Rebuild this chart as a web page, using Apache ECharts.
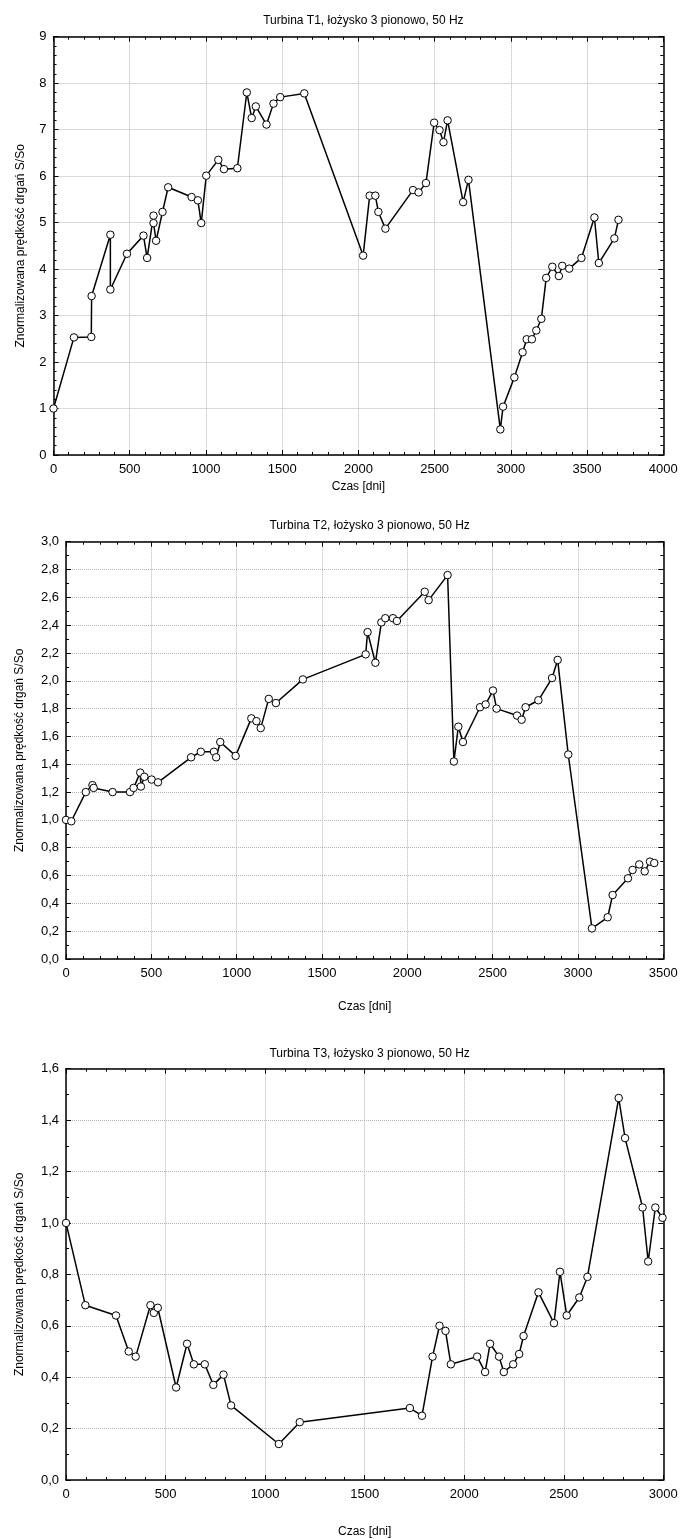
<!DOCTYPE html>
<html>
<head>
<meta charset="utf-8">
<script src="https://cdn.jsdelivr.net/npm/echarts@6/dist/echarts.min.js"></script>
<style>
  html, body { margin: 0; padding: 0; background: #fff; }
  #chart { width: 681px; height: 1539px; }
</style>
</head>
<body>
<div id="chart"></div>
<script>
// ---------- data ----------
const titles = [
  'Turbina T1, łożysko 3 pionowo, 50 Hz',
  'Turbina T2, łożysko 3 pionowo, 50 Hz',
  'Turbina T3, łożysko 3 pionowo, 50 Hz'
];
const xAxisName = 'Czas [dni]';
const yAxisName = 'Znormalizowana prędkość drgań S/So';

const t1Days = [0,134,248,250,373,373,482,590,614,656,656,673,715,752,906,947,969,1002,1081,1118,1206,1268,1300,1327,1397,1443,1487,1645,2031,2074,2111,2131,2177,2358,2395,2443,2497,2532,2558,2585,2687,2722,2931,2949,3023,3077,3104,3138,3167,3200,3232,3272,3315,3337,3383,3463,3548,3577,3679,3706];
const t1Vals = [1.0,2.53,2.54,3.42,4.74,3.56,4.33,4.72,4.24,5.15,4.99,4.61,5.23,5.76,5.55,5.48,4.99,6.01,6.35,6.15,6.17,7.80,7.25,7.50,7.11,7.56,7.70,7.78,4.29,5.58,5.58,5.23,4.87,5.70,5.65,5.85,7.15,6.99,6.73,7.20,5.44,5.92,0.55,1.04,1.67,2.21,2.49,2.49,2.68,2.93,3.81,4.05,3.85,4.07,4.01,4.24,5.11,4.13,4.66,5.06];

const t2Days = [0,31,116,155,162,273,375,396,435,439,459,502,539,733,790,867,880,904,994,1086,1116,1141,1188,1230,1388,1756,1767,1813,1848,1871,1916,1939,2102,2125,2236,2273,2299,2326,2426,2459,2502,2523,2643,2670,2693,2768,2848,2881,2943,3082,3174,3203,3293,3320,3359,3391,3422,3447];
const t2Vals = [1.0,0.99,1.20,1.25,1.23,1.20,1.20,1.23,1.34,1.24,1.31,1.29,1.27,1.45,1.49,1.49,1.45,1.56,1.46,1.73,1.71,1.66,1.87,1.84,2.01,2.19,2.35,2.13,2.42,2.45,2.45,2.43,2.64,2.58,2.76,1.42,1.67,1.56,1.81,1.83,1.93,1.80,1.75,1.72,1.81,1.86,2.02,2.15,1.47,0.22,0.30,0.46,0.58,0.64,0.68,0.63,0.70,0.69];

const t3Days = [0,97,251,315,350,424,441,461,553,608,642,697,740,791,829,1069,1174,1727,1788,1841,1876,1906,1933,2065,2105,2130,2175,2199,2246,2276,2298,2373,2451,2481,2515,2578,2619,2776,2808,2896,2924,2960,2996];
const t3Vals = [1.0,0.68,0.64,0.50,0.48,0.68,0.65,0.67,0.36,0.53,0.45,0.45,0.37,0.41,0.29,0.14,0.225,0.28,0.25,0.48,0.60,0.58,0.45,0.48,0.42,0.53,0.48,0.42,0.45,0.49,0.56,0.73,0.61,0.81,0.64,0.71,0.79,1.486,1.33,1.06,0.85,1.06,1.02];

const xMax = [4000, 3500, 3000];
const yMax = [9, 3.0, 1.6];
const yInterval = [1, 0.2, 0.2];
const yMinorSplit = [5, 2, 2];

// ---------- layout ----------
const grids = [
  { left: 53.5, top: 36.7, width: 609.8, height: 418.3 },
  { left: 66, top: 541.7, width: 597.3, height: 417.3 },
  { left: 66, top: 1068.7, width: 597.3, height: 412.6 }
];
const titleTops = [10, 514.5, 1043];
const xNameGaps = [26, 42, 46];
const yNameGaps = [27, 40, 40];

const FONT = '"Liberation Sans", Arial, Helvetica, sans-serif';
const series = [
  [t1Days, t1Vals], [t2Days, t2Vals], [t3Days, t3Vals]
];

const option = {
  animation: false,
  backgroundColor: '#fff',
  textStyle: { fontFamily: FONT, color: '#000' },
  title: titles.map((t, i) => ({
    text: t,
    left: grids[i].left + grids[i].width / 2,
    top: titleTops[i],
    textAlign: 'center',
    textStyle: { fontSize: 12, fontWeight: 'normal', color: '#000', fontFamily: FONT }
  })),
  grid: grids.map(g => Object.assign({ containLabel: false }, g)),
  xAxis: [],
  yAxis: [],
  series: []
};

const xFmt = v => String(Math.round(v));
const yFmt = [
  v => String(Math.round(v)),
  v => v.toFixed(1).replace('.', ','),
  v => v.toFixed(1).replace('.', ',')
];

for (let i = 0; i < 3; i++) {
  const common = {
    type: 'value',
    gridIndex: i,
    axisLine: { show: true, onZero: false, lineStyle: { color: '#000', width: 1.5 } },
    axisTick: { show: true, inside: true, length: 5, lineStyle: { color: '#000', width: 1 } },
    minorTick: { show: true, length: 3, lineStyle: { color: '#000', width: 1 } }
  };
  // bottom x
  option.xAxis.push(Object.assign({}, common, {
    position: 'bottom', min: 0, max: xMax[i], interval: 500,
    minorTick: Object.assign({}, common.minorTick, { splitNumber: 5 }),
    axisLabel: { show: true, fontSize: 13, color: '#000', margin: 8, fontFamily: FONT, formatter: xFmt },
    splitLine: { show: true, lineStyle: { color: '#b5b5b5', type: [1, 1], width: 1 } },
    name: xAxisName, nameLocation: 'middle', nameGap: xNameGaps[i],
    nameTextStyle: { fontSize: 12, color: '#000', fontFamily: FONT }
  }));
  // top mirror x
  option.xAxis.push(Object.assign({}, common, {
    position: 'top', min: 0, max: xMax[i], interval: 500,
    minorTick: Object.assign({}, common.minorTick, { splitNumber: 5 }),
    axisLabel: { show: false }, splitLine: { show: false }
  }));
  // left y
  option.yAxis.push(Object.assign({}, common, {
    position: 'left', min: 0, max: yMax[i], interval: yInterval[i],
    minorTick: Object.assign({}, common.minorTick, { splitNumber: yMinorSplit[i] }),
    axisLabel: { show: true, fontSize: 13, color: '#000', margin: 7, fontFamily: FONT, formatter: yFmt[i] },
    splitLine: { show: true, lineStyle: { color: '#b5b5b5', type: [1, 1], width: 1 } },
    name: yAxisName, nameLocation: 'middle', nameGap: yNameGaps[i], nameRotate: 90,
    nameTextStyle: { fontSize: 12, color: '#000', fontFamily: FONT }
  }));
  // right mirror y
  option.yAxis.push(Object.assign({}, common, {
    position: 'right', min: 0, max: yMax[i], interval: yInterval[i],
    minorTick: Object.assign({}, common.minorTick, { splitNumber: yMinorSplit[i] }),
    axisLabel: { show: false }, splitLine: { show: false }
  }));

  const [d, v] = series[i];
  option.series.push({
    type: 'line',
    xAxisIndex: i * 2,
    yAxisIndex: i * 2,
    data: d.map((x, k) => [x, v[k]]),
    symbol: 'circle',
    symbolSize: 7.5,
    showAllSymbol: true,
    clip: true,
    lineStyle: { color: '#000', width: 1.5 },
    itemStyle: { color: '#fff', borderColor: '#000', borderWidth: 1 },
    emphasis: { disabled: true }
  });
}

const chart = echarts.init(document.getElementById('chart'), null, { renderer: 'canvas' });
chart.setOption(option);
</script>
</body>
</html>
